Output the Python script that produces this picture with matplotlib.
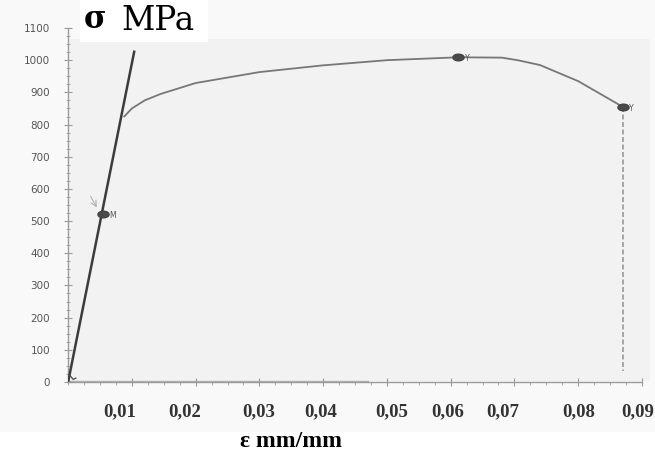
import matplotlib
matplotlib.use("Agg")
import matplotlib.pyplot as plt
from matplotlib.ticker import MultipleLocator
from matplotlib.path import Path

# Elastic (loading) line
elastic_strain = [0.0, 0.0104]
elastic_stress = [0.0, 1030]

# Plastic region of the stress-strain curve
curve_strain = [0.0088, 0.0100, 0.0120, 0.0145, 0.0200, 0.0300, 0.0400, 0.0500,
                0.0612, 0.0680, 0.0705, 0.0740, 0.0800, 0.0870]
curve_stress = [825, 850, 875, 895, 929, 963, 984, 1000,
                1009, 1008, 1000, 985, 935, 855]

# Fracture drop
fracture_strain = [0.0870, 0.0870]
fracture_stress = [855, 35]

# Marked points
point_strain = [0.0054, 0.0612, 0.0870]
point_stress = [522, 1009, 855]
point_labels = ["M", "Y", "Y"]

# Axis ticks
xticks = [0.01, 0.02, 0.03, 0.04, 0.05, 0.06, 0.07, 0.08, 0.09]
xtick_labels = ["0,01", "0,02", "0,03", "0,04", "0,05", "0,06", "0,07", "0,08", "0,09"]
xlabel_pos = [0.0081, 0.0182, 0.0299, 0.0396, 0.0507, 0.0596, 0.0681, 0.0801, 0.0894]
yticks = list(range(0, 1101, 100))

fig = plt.figure(figsize=(6.55, 4.63), dpi=100)
fig.patch.set_facecolor("#f9f9f9")

# white strip under the tick labels
fig.patches.append(plt.Rectangle((0, 0), 1, 0.067, transform=fig.transFigure,
                                 facecolor="white", edgecolor="none", zorder=-2))

ax = fig.add_axes([0.104, 0.175, 0.876, 0.7645])
ax.set_xlim(0, 0.09)
ax.set_ylim(0, 1100)
ax.set_facecolor("none")

# light grey plotting panel
fig.patches.append(plt.Rectangle((0.107, 0.178), 0.885, 0.738, transform=fig.transFigure,
                                 facecolor="#f2f2f2", edgecolor="none", zorder=-1))

for side in ("top", "right"):
    ax.spines[side].set_visible(False)
for side in ("left", "bottom"):
    ax.spines[side].set_color("#9a9a9a")
    ax.spines[side].set_linewidth(1.0)

ax.set_yticks(yticks)
ax.set_yticklabels([str(v) for v in yticks])
ax.yaxis.set_minor_locator(MultipleLocator(25))
ax.tick_params(axis="y", which="major", direction="inout", length=6, color="#9a9a9a",
               labelsize=7.5, labelcolor="#555555", pad=10)
ax.tick_params(axis="y", which="minor", direction="inout", length=3, color="#9a9a9a")

ax.set_xticks(xticks)
ax.set_xticklabels([])
ax.xaxis.set_minor_locator(MultipleLocator(0.0025))
ax.tick_params(axis="x", which="major", direction="inout", length=6, color="#9a9a9a")
ax.tick_params(axis="x", which="minor", direction="out", length=2.5, color="#9a9a9a")
for xp, lab in zip(xlabel_pos, xtick_labels):
    ax.text(xp, -0.085, lab, transform=ax.get_xaxis_transform(), ha="center", va="center",
            fontsize=13.5, fontweight="bold", family="Liberation Serif", color="#333333",
            clip_on=False)

# flattened oval marker
circle = Path.unit_circle()
oval = Path(circle.vertices * [1.5, 0.9], circle.codes)

# curves
ax.plot(elastic_strain, elastic_stress, color="#3c3c3c", lw=1.8, solid_capstyle="butt", zorder=3)
ax.plot(curve_strain, curve_stress, color="#777777", lw=1.3, zorder=3)
ax.plot(fracture_strain, fracture_stress, color="#9a9a9a", lw=1.2, ls=(0, (3, 1.5)), zorder=3)
ax.plot([0.0, 0.047], [4, 4], color="#888888", lw=1.0, alpha=0.6, zorder=2)
ax.plot([0.0003, 0.0008, 0.0012], [20, 8, 12], color="#555555", lw=1.0, zorder=3)

ax.plot(point_strain, point_stress, ls="none", marker=oval, ms=8, color="#4a4a4a",
        markeredgecolor="#444444", zorder=4)
for xs, ys, lab in zip(point_strain, point_stress, point_labels):
    ax.text(xs + 0.0010, ys - 5, lab, fontsize=5.5, color="#555555", ha="left", va="center",
            zorder=5)

# small pointer near M
ax.annotate("", xy=(0.0047, 535), xytext=(0.0033, 585),
            arrowprops=dict(arrowstyle="->", color="#aaaaaa", lw=0.7))

# axis titles
fig.patches.append(plt.Rectangle((0.122, 0.91), 0.195, 0.09, transform=fig.transFigure,
                                 facecolor="white", edgecolor="none", zorder=5))
fig.text(0.128, 0.957, "σ", fontsize=22, fontweight="bold", family="DejaVu Serif",
         ha="left", va="center", zorder=6)
fig.text(0.186, 0.955, "MPa", fontsize=23.5, family="DejaVu Serif",
         ha="left", va="center", zorder=6)
fig.text(0.445, 0.047, "ε mm/mm", fontsize=17, fontweight="bold", family="Liberation Serif",
         ha="center", va="center")

fig.savefig("out.png", dpi=100, facecolor=fig.get_facecolor())
